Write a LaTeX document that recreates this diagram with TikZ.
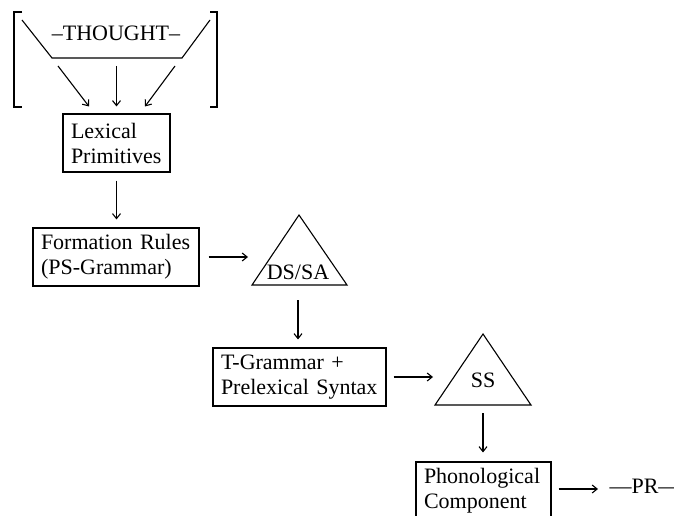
\documentclass[tikz,border=0pt]{standalone}
\usepackage{fontspec}
\setmainfont{Liberation Serif}
\usetikzlibrary{arrows.meta}
\newcommand{\diagfont}{\fontsize{22}{25}\selectfont}
\begin{document}
\begin{tikzpicture}[x=1pt,y=-1pt,
  line width=1.1pt,
  every node/.style={font=\diagfont},
  box/.style={draw, align=left, inner xsep=8pt, inner ysep=0pt, minimum height=58pt},
  arr/.style={-{Straight Barb[length=5pt,width=8pt]}},
  lbl/.style={inner sep=0pt}]
\useasboundingbox (0,0) rectangle (674,516);

% thought bracket and funnel
\draw (22,12) -- (14,12) -- (14,107) -- (22,107);
\draw (210,12) -- (217,12) -- (217,107) -- (210,107);
\draw (22,20) -- (52,58) -- (182,58) -- (210,20);
\node[lbl, anchor=base] (th) at (116,41) {–THOUGHT–};
\coordinate (f1) at (58,66);
\coordinate (f2) at (116.5,66);
\coordinate (f3) at (175,66);

% boxes
\node[box, text width=91pt]  (lex) at (116.5,143) {Lexical\\Primitives};
\node[box, text width=150pt] (fr)  at (116,257)   {Formation Rules\\(PS-Grammar)};
\node[box, text width=157pt] (tg)  at (299.5,377) {T-Grammar +\\Prelexical Syntax};
\node[box, text width=119pt] (ph)  at (483.5,491) {Phonological\\Component};

% triangles
\draw (299,215) coordinate (dsTop) -- (347,285) coordinate (dsR) -- (252,285) coordinate (dsL) -- cycle;
\node[lbl] (ds) at (298,272) {DS/SA};
\draw (483,334) coordinate (ssTop) -- (531,405) coordinate (ssR) -- (435,405) coordinate (ssL) -- cycle;
\node[lbl] (ss) at (483,380) {SS};

\node[lbl, anchor=base west] (pr) at (609,493) {—PR—};

% connectors
\draw[arr] (f1) -- ([xshift=-27.5pt,yshift=7pt]lex.north);
\draw[arr] (f2) -- ([yshift=7pt]lex.north);
\draw[arr] (f3) -- ([xshift=28.5pt,yshift=7pt]lex.north);
\draw[arr] ([yshift=-8pt]lex.south) -- ([yshift=8pt]lex.south |- fr.north);
\draw[arr] ([xshift=9pt]fr.east) -- ([xshift=-4pt]fr.east -| dsL);
\draw[arr] ([yshift=-15pt]dsL -| ds) -- ([yshift=8pt]ds |- tg.north);
\draw[arr] ([xshift=7pt]tg.east) -- ([xshift=-2pt]tg.east -| ssL);
\draw[arr] ([yshift=-8pt]ssL -| ss) -- ([yshift=9pt]ss |- ph.north);
\draw[arr] ([xshift=7pt,yshift=2pt]ph.east) -- ([xshift=-11pt,yshift=2pt]ph.east -| pr.west);
\end{tikzpicture}
\end{document}
